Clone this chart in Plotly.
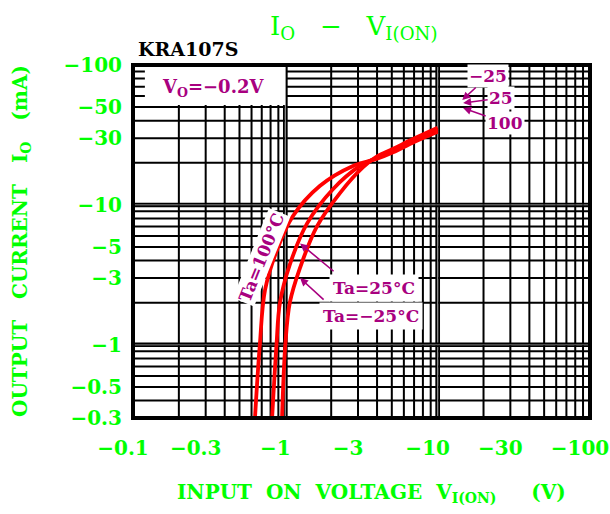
import math
import plotly.graph_objects as go

# ---------------- data (magnitudes; all values are negative in the chart) ----------------
x_tick_vals = [0.1, 0.3, 1, 3, 10, 30, 100]
x_tick_text = ["−0.1", "−0.3", "−1", "−3", "−10", "−30", "−100"]
y_tick_vals = [0.3, 0.5, 1, 3, 5, 10, 30, 50, 100]
y_tick_text = ["−0.3", "−0.5", "−1", "−3", "−5", "−10", "−30", "−50", "−100"]

# Ta = 100 °C   (|V_I(ON)| in V, |I_O| in mA)
ta100_v = [0.632, 0.680, 0.736, 0.881, 1.12, 1.69, 2.78, 4.00, 5.10, 7.00, 10.0]
ta100_i = [0.30, 1.00, 2.47, 4.75, 8.30, 13.7, 19.0, 21.4, 23.8, 28.2, 33.4]
# Ta = 25 °C
ta25_v = [0.819, 0.875, 0.922, 1.07, 1.39, 2.06, 3.09, 4.00, 5.10, 7.00, 10.0]
ta25_i = [0.30, 1.00, 2.00, 3.74, 7.38, 13.0, 19.0, 21.8, 24.5, 29.0, 34.5]
# Ta = -25 °C
tam25_v = [0.951, 1.00, 1.07, 1.25, 1.61, 2.29, 3.24, 4.00, 5.10, 7.00, 10.0]
tam25_i = [0.30, 1.00, 2.00, 3.56, 7.00, 12.2, 18.6, 22.2, 25.2, 29.8, 35.6]

# grid values
x_grid_minor = [d * m for d in (0.1, 1, 10) for m in range(2, 10)]
x_grid_major = [1, 10]
y_grid_minor = [0.4, 0.5, 0.6, 0.7, 0.8, 0.9] + [d * m for d in (1, 10) for m in range(2, 10)]
y_grid_major = [1, 10]

X_RANGE = (0.1, 100)
Y_RANGE = (0.3, 100)

GREEN = "#00FF00"
PURPLE = "#A8007F"
RED = "#FF0000"
FONT = "DejaVu Serif"

fig = go.Figure()


def vlines(vals):
    xs, ys = [], []
    for v in vals:
        xs += [v, v, None]
        ys += [Y_RANGE[0], Y_RANGE[1], None]
    return xs, ys


def hlines(vals):
    xs, ys = [], []
    for v in vals:
        xs += [X_RANGE[0], X_RANGE[1], None]
        ys += [v, v, None]
    return xs, ys


# minor grid
for fn, vals in ((vlines, x_grid_minor), (hlines, y_grid_minor)):
    xs, ys = fn(vals)
    fig.add_trace(go.Scatter(x=xs, y=ys, mode="lines", line=dict(color="black", width=2),
                             hoverinfo="skip", showlegend=False))
# decade grid: drawn as close double lines
for fn, vals in ((vlines, x_grid_major), (hlines, y_grid_major)):
    xs, ys = fn(vals)
    fig.add_trace(go.Scatter(x=xs, y=ys, mode="lines", line=dict(color="#9a9a9a", width=1.5),
                             hoverinfo="skip", showlegend=False))
    pair = [v / 1.022 for v in vals] + [v * 1.022 for v in vals]
    xs, ys = fn(pair)
    fig.add_trace(go.Scatter(x=xs, y=ys, mode="lines", line=dict(color="black", width=1.8),
                             hoverinfo="skip", showlegend=False))

# curves
for v, i, name in ((ta100_v, ta100_i, "Ta=100°C"), (ta25_v, ta25_i, "Ta=25°C"), (tam25_v, tam25_i, "Ta=−25°C")):
    fig.add_trace(go.Scatter(x=v, y=i, mode="lines", name=name,
                             line=dict(color=RED, width=3.8, shape="spline", smoothing=1.0),
                             showlegend=False))

L = math.log10

shapes = [
    # white box behind the V_O label
    dict(type="rect", xref="paper", yref="paper", x0=0.026, x1=0.333, y0=0.887, y1=1.0,
         fillcolor="white", line=dict(width=0), layer="above"),
    # frame
    dict(type="rect", xref="paper", yref="paper", x0=0, x1=1, y0=0, y1=1,
         line=dict(color="black", width=4), fillcolor="rgba(0,0,0,0)", layer="above"),
]

NB = "\u00a0"
lab = dict(family=FONT, size=17, color=PURPLE, weight="bold")
P = dict(xref="paper", yref="paper", showarrow=False, xanchor="center", yanchor="middle")
annotations = [
    # title
    dict(P, x=0.484, y=1.106, text="I<sub>O</sub>" + NB * 3 + "−" + NB * 3 + "V<sub>I(ON)</sub>",
         font=dict(family=FONT, size=26, color=GREEN)),
    dict(P, x=0.12, y=1.045, text="KRA107S",
         font=dict(family=FONT, size=19, color="black", weight="bold")),
    # axis titles
    dict(P, x=(371 - 133) / 457, y=(418 - 493) / 353,
         text="INPUT" + NB * 2 + "ON" + NB * 2 + "VOLTAGE" + NB * 2 + "V<sub>I(ON)</sub>" + NB * 5 + "(V)",
         font=dict(family=FONT, size=20, color=GREEN, weight="bold")),
    dict(P, x=(21 - 133) / 457, y=(418 - 241) / 353, textangle=-90,
         text="OUTPUT" + NB * 3 + "CURRENT" + NB * 3 + "I<sub>O</sub>" + NB * 3 + "(mA)",
         font=dict(family=FONT, size=20, color=GREEN, weight="bold")),
    # V_O label
    dict(P, x=0.175, y=0.935, text="V<sub>O</sub>=−0.2V",
         font=dict(family=FONT, size=18, color=PURPLE, weight="bold")),
    # arrows (no text)
    dict(x=L(1.25), y=L(5.3), ax=35, ay=29, text="", showarrow=True, arrowhead=2, arrowsize=1,
         arrowwidth=1.6, arrowcolor=PURPLE),
    dict(x=L(1.25), y=L(3.0), ax=25, ay=23, text="", showarrow=True, arrowhead=2, arrowsize=1,
         arrowwidth=1.6, arrowcolor=PURPLE),
    # curve labels
    dict(x=L(3.82), y=L(2.54), text="Ta=25°C", showarrow=False, font=lab, bgcolor="white", borderpad=3,
         xanchor="center", yanchor="middle"),
    dict(x=L(3.65), y=L(1.61), text="Ta=−25°C", showarrow=False, font=lab, bgcolor="white", borderpad=3,
         xanchor="center", yanchor="middle"),
    dict(x=L(0.703), y=L(4.21), text="Ta=100°C", showarrow=False, font=lab, bgcolor="white", borderpad=1,
         textangle=-68, xanchor="center", yanchor="middle"),
    # end labels at top right
    dict(x=L(14.5), y=L(56.2), ax=26, ay=-24, text="−25", showarrow=True, arrowhead=2, arrowsize=1,
         arrowwidth=1.6, arrowcolor=PURPLE, font=lab, bgcolor="white", borderpad=1),
    dict(x=L(14.7), y=L(53.5), ax=38, ay=-5, text="25", showarrow=True, arrowhead=2, arrowsize=1,
         arrowwidth=1.6, arrowcolor=PURPLE, font=lab, bgcolor="white", borderpad=1),
    dict(x=L(14.7), y=L(49.3), ax=42, ay=15, text="100", showarrow=True, arrowhead=2, arrowsize=1,
         arrowwidth=1.6, arrowcolor=PURPLE, font=lab, bgcolor="white", borderpad=1),
]

tickfont = dict(family=FONT, size=20, color=GREEN, weight="bold")
fig.update_layout(
    width=610, height=514,
    margin=dict(l=133, r=20, t=65, b=96, pad=0, autoexpand=False),
    paper_bgcolor="white", plot_bgcolor="white",
    showlegend=False,
    shapes=shapes, annotations=annotations,
    # labels shifted left so the digits (not the minus sign) sit under each grid line
    xaxis=dict(type="log", range=[L(X_RANGE[0]), L(X_RANGE[1])], tickvals=x_tick_vals,
               ticktext=x_tick_text, showgrid=False, zeroline=False,
               showline=False, ticks="", tickfont=tickfont, ticklabelstandoff=16,
               ticklabelshift=-10, ticklabeloverflow="allow", automargin=False),
    yaxis=dict(type="log", range=[L(Y_RANGE[0]), L(Y_RANGE[1])], tickvals=y_tick_vals,
               ticktext=y_tick_text, showgrid=False, zeroline=False, showline=False, ticks="",
               tickfont=tickfont, ticklabelstandoff=10, automargin=False),
)

# remove the default 8 px page margin so the 610x514 figure fills the window exactly
fig.write_html("out.html", config={"displayModeBar": False},
               post_script="document.body.style.margin='0';document.body.style.overflow='hidden';")
